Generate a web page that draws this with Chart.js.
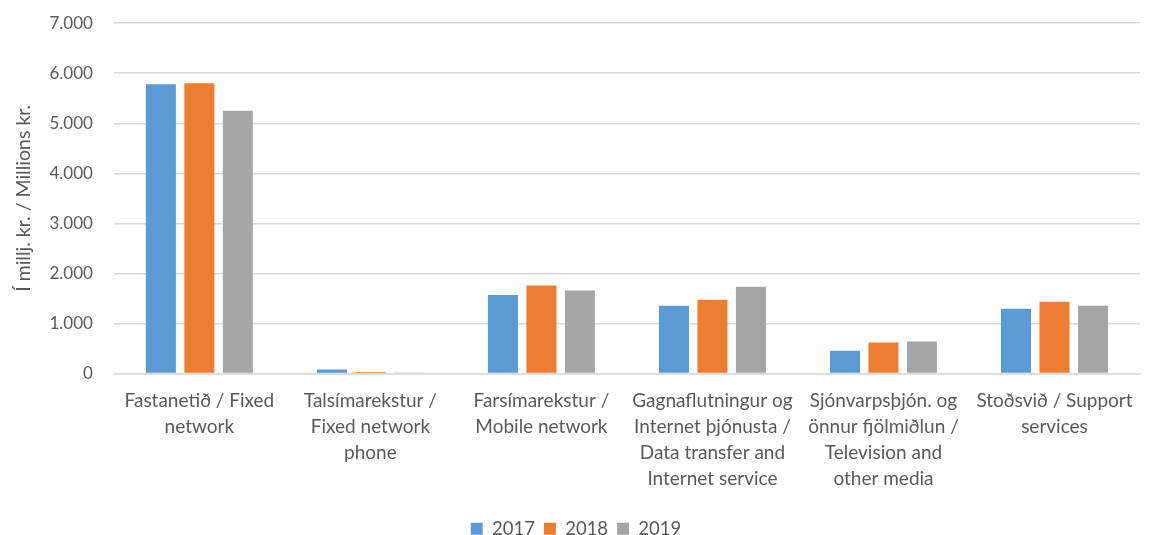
<!DOCTYPE html>
<html>
<head>
<meta charset="utf-8">
<script src="https://cdn.jsdelivr.net/npm/chart.js@4/dist/chart.umd.min.js"></script>
<style>
  body { margin: 0; background: #fff; }
</style>
</head>
<body>
<canvas id="chart" width="1160" height="535"></canvas>
<script>
// categories (multi-line labels) and yearly values, millions kr.
var categories = [
  ['Fastanetið / Fixed', 'network'],
  ['Talsímarekstur /', 'Fixed network', 'phone'],
  ['Farsímarekstur /', 'Mobile network'],
  ['Gagnaflutningur og', 'Internet þjónusta /', 'Data transfer and', 'Internet service'],
  ['Sjónvarpsþjón. og', 'önnur fjölmiðlun /', 'Television and', 'other media'],
  ['Stoðsvið / Support', 'services']
];
var years = ['2017', '2018', '2019'];
var values2017 = [5780, 80, 1565, 1352, 451, 1292];
var values2018 = [5800, 30, 1756, 1471, 616, 1431];
var values2019 = [5250, 20, 1656, 1730, 636, 1352];
var yTicks = [0, 1000, 2000, 3000, 4000, 5000, 6000, 7000];

var colors = ['#5b9bd5', '#ed7d31', '#a5a5a5'];
var txt = '#595959';
var font = "Lato, 'Open Sans', sans-serif";

function fmt(n) {
  return n.toString().replace(/\B(?=(\d{3})+(?!\d))/g, '.');
}

// push the legend row a little further down than the layout puts it
var legendShift = {
  id: 'legendShift',
  afterLayout: function (chart) {
    chart.legend.top += 13;
    chart.legend.bottom += 13;
  }
};

const myChart = new Chart("chart", {
  type: 'bar',
  data: {
    labels: categories,
    datasets: [values2017, values2018, values2019].map(function (d, i) {
      return {
        label: years[i],
        data: d,
        backgroundColor: colors[i],
        borderWidth: 0,
        categoryPercentage: 0.675,
        barPercentage: 0.78
      };
    })
  },
  plugins: [legendShift],
  options: {
    responsive: false,
    animation: false,
    layout: { padding: { left: 12, right: 20, top: 18, bottom: 0 } },
    plugins: {
      legend: {
        position: 'bottom',
        labels: {
          color: txt,
          font: { family: font, size: 18.5 },
          boxWidth: 12,
          boxHeight: 12,
          padding: 9
        }
      },
      tooltip: { enabled: false }
    },
    scales: {
      x: {
        grid: { display: false },
        border: { color: '#d9d9d9', width: 1.5 },
        ticks: {
          color: txt,
          font: { family: font, size: 19, lineHeight: 1.37 },
          maxRotation: 0,
          autoSkip: false,
          padding: 6
        }
      },
      y: {
        min: 0,
        max: 7000,
        afterBuildTicks: function (axis) {
          axis.ticks = yTicks.map(function (v) { return { value: v }; });
        },
        grid: { color: '#d9d9d9', lineWidth: 1.5, drawTicks: true, tickLength: 8, tickColor: '#fff' },
        border: { display: false },
        ticks: {
          color: txt,
          font: { family: font, size: 17 },
          padding: 13,
          callback: function (v) { return fmt(v); }
        },
        title: {
          display: true,
          text: 'Í millj. kr. / Millions kr.',
          color: txt,
          font: { family: font, size: 19.5 },
          padding: { top: 0, bottom: 1 }
        }
      }
    }
  }
});
</script>
</body>
</html>
